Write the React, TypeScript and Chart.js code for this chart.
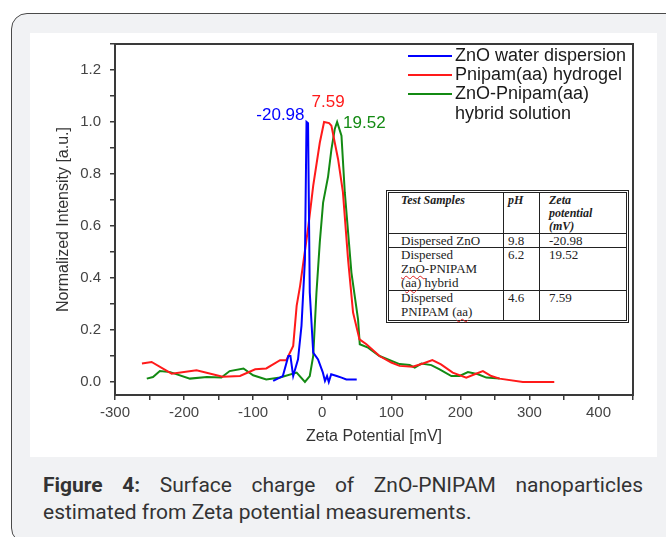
import React, { useEffect, useRef } from 'react';
import { Chart, registerables } from 'chart.js';

Chart.register(...registerables);

// ---- data ----
const znoX = [-71, -57, -49, -46, -42, -35, -30, -25, -22.7, -20.5, -18, -13, -6, 1, 4, 7, 9.5, 13, 21, 28, 35, 50];
const znoY = [0.004, 0.023, 0.1, 0.1, 0.023, 0.087, 0.216, 0.47, 1.0, 0.995, 0.344, 0.113, 0.087, 0.036, 0.004, 0.023, 0.0, 0.03, 0.023, 0.017, 0.01, 0.01];

const pnipamX = [-261, -247, -218, -182, -144, -119, -97, -81, -61, -52, -42, -37, -32, -20, -13, -3.5, 2.7, 10, 13.3, 23, 30, 37.5, 44.7, 54, 64, 83, 100, 112, 131, 146, 159.5, 172, 189, 208.6, 220.7, 232.7, 244.8, 256.8, 290.5, 336];
const pnipamY = [0.071, 0.077, 0.032, 0.045, 0.02, 0.023, 0.049, 0.052, 0.084, 0.084, 0.139, 0.293, 0.37, 0.6, 0.755, 0.92, 1.0, 0.996, 0.986, 0.857, 0.73, 0.47, 0.267, 0.164, 0.145, 0.1, 0.075, 0.062, 0.059, 0.071, 0.084, 0.068, 0.036, 0.017, 0.03, 0.042, 0.023, 0.013, 0.0, 0.0];

const hybridX = [-254, -245, -235, -220, -191.5, -167, -146, -134, -114, -100, -81, -61, -37, -25, -18, -13, -8.3, -3.5, 1.3, 8.5, 13.4, 18.2, 21.6, 27.9, 32.7, 42.3, 51.9, 54.4, 66.4, 83, 112, 126.7, 134, 143.6, 158, 170, 187, 199, 211, 225.6, 237.6, 256.8];
const hybridY = [0.013, 0.019, 0.042, 0.038, 0.013, 0.019, 0.017, 0.042, 0.052, 0.026, 0.01, 0.017, 0.036, 0.0, 0.023, 0.1, 0.344, 0.537, 0.69, 0.79, 0.896, 0.973, 1.0, 0.947, 0.73, 0.421, 0.241, 0.145, 0.132, 0.1, 0.069, 0.065, 0.055, 0.071, 0.065, 0.049, 0.023, 0.023, 0.038, 0.03, 0.017, 0.013];

const seriesNames = ['ZnO water dispersion', 'Pnipam(aa) hydrogel', 'ZnO-Pnipam(aa)'];
const legendExtraLine = 'hybrid solution';
const seriesColors = ['#0000ff', '#ff1a1a', '#138a13'];
const peakLabels = ['-20.98', '7.59', '19.52'];

const xMin = -300, xMax = 450, xStep = 50;
const yMin = -0.05, yMax = 1.3, yStep = 0.1;
const xTitle = 'Zeta Potential [mV]';
const yTitle = 'Normalized Intensity [a.u.]';

const tableHeader = [['Test Samples'], ['pH'], ['Zeta', 'potential', '(mV)']];
const tableSamples = [['Dispersed ZnO'], ['Dispersed', 'ZnO-PNIPAM', '(aa) hybrid'], ['Dispersed', 'PNIPAM (aa)']];
const tablePH = ['9.8', '6.2', '4.6'];
const tableZeta = ['-20.98', '19.52', '7.59'];

const captionBold = 'Figure 4:';
const captionLine1 = ' Surface charge of ZnO-PNIPAM nanoparticles';
const captionLine2 = 'estimated from Zeta potential measurements.';

const FONT = '"Liberation Sans", Arial, sans-serif';

const toPoints = (xs: number[], ys: number[]) => xs.map((x, i) => ({ x, y: ys[i] }));

const overlayPlugin = {
  id: 'overlay',
  afterDatasetsDraw(chart: any) {
    const { ctx, chartArea: a, scales } = chart;
    const xs = scales.x, ys = scales.y;
    ctx.save();
    // frame
    ctx.strokeStyle = '#3a3a3a';
    ctx.lineWidth = 2;
    ctx.strokeRect(a.left, a.top, a.right - a.left, a.bottom - a.top);

    // peak labels
    ctx.font = `17px ${FONT}`;
    ctx.textBaseline = 'middle';
    const offs = [
      { dx: -2, dy: -7, align: 'right' },
      { dx: 4, dy: -19.5, align: 'center' },
      { dx: 6, dy: 1, align: 'left' },
    ];
    chart.data.datasets.forEach((ds: any, i: number) => {
      let best = 0;
      ds.data.forEach((p: any, j: number) => { if (p.y > ds.data[best].y) best = j; });
      const px = xs.getPixelForValue(ds.data[best].x);
      const py = ys.getPixelForValue(ds.data[best].y);
      ctx.fillStyle = seriesColors[i];
      ctx.textAlign = offs[i].align;
      ctx.fillText(peakLabels[i], px + offs[i].dx, py + offs[i].dy);
    });

    // legend
    ctx.font = `18px ${FONT}`;
    ctx.textAlign = 'left';
    const rows = [12, 31, 50];
    rows.forEach((r, i) => {
      const y = a.top + r;
      ctx.strokeStyle = seriesColors[i];
      ctx.lineWidth = 2;
      ctx.beginPath();
      ctx.moveTo(a.right - 225, y);
      ctx.lineTo(a.right - 181, y);
      ctx.stroke();
      ctx.fillStyle = '#1a1a1a';
      ctx.fillText(seriesNames[i], a.right - 178, y);
    });
    ctx.fillText(legendExtraLine, a.right - 178, a.top + 70);
    ctx.restore();
  },
};

const zeroPad = (s: any) => {
  s.paddingTop = 0;
  s.paddingBottom = 0;
  s.paddingLeft = 0;
  s.paddingRight = 0;
};

function ChartCanvas() {
  const ref = useRef<HTMLCanvasElement | null>(null);
  useEffect(() => {
    if (!ref.current) return;
    const chart = new Chart(ref.current, {
      type: 'line',
      data: {
        datasets: [
          { label: seriesNames[0], data: toPoints(znoX, znoY), borderColor: seriesColors[0] },
          { label: seriesNames[1], data: toPoints(pnipamX, pnipamY), borderColor: seriesColors[1] },
          { label: seriesNames[2], data: toPoints(hybridX, hybridY), borderColor: seriesColors[2] },
        ].map((d) => ({ ...d, borderWidth: 2, pointRadius: 0, tension: 0, fill: false })),
      },
      options: {
        animation: false,
        responsive: false,
        events: [],
        layout: { padding: { left: 0, right: 24, top: 11, bottom: 0 } },
        plugins: { legend: { display: false }, tooltip: { enabled: false } },
        scales: {
          x: {
            type: 'linear',
            min: xMin,
            max: xMax,
            afterFit: (s: any) => { s.height = 62; zeroPad(s); },
            ticks: {
              stepSize: xStep,
              autoSkip: false,
              includeBounds: false,
              maxRotation: 0,
              padding: 4,
              color: '#444',
              font: { family: FONT, size: 15 },
              callback: (v: any) => (Math.round(v) % 100 === 0 ? String(Math.round(v)) : ''),
            },
            grid: { drawOnChartArea: false, drawTicks: true, tickLength: 5, color: '#3a3a3a', lineWidth: 1.5 },
            border: { display: true, color: '#3a3a3a', width: 2 },
            title: {
              display: true,
              text: xTitle,
              color: '#333',
              font: { family: FONT, size: 16 },
              padding: { top: 0, bottom: 11 },
            },
          },
          y: {
            type: 'linear',
            min: yMin,
            max: yMax,
            afterFit: (s: any) => { s.width = 85; zeroPad(s); },
            ticks: {
              stepSize: yStep,
              autoSkip: false,
              includeBounds: false,
              padding: 9,
              color: '#444',
              font: { family: FONT, size: 15 },
              callback: (v: any) => {
                const k = Math.round(v * 10);
                if (Math.abs(v * 10 - k) > 1e-6) return '';
                return k % 2 === 0 ? (k / 10).toFixed(1) : '';
              },
            },
            grid: { drawOnChartArea: false, drawTicks: true, tickLength: 5, color: '#3a3a3a', lineWidth: 1.5 },
            border: { display: true, color: '#3a3a3a', width: 2 },
            title: {
              display: true,
              text: yTitle,
              color: '#333',
              font: { family: FONT, size: 16 },
              padding: { top: 24, bottom: 0 },
            },
          },
        },
      },
      plugins: [overlayPlugin],
    } as any);
    return () => chart.destroy();
  }, []);
  return <canvas ref={ref} width={627} height={424} style={{ display: 'block', width: 627, height: 424 }} />;
}

const cellBase: React.CSSProperties = {
  boxSizing: 'border-box',
  borderRight: '1px solid #222',
  borderBottom: '1px solid #222',
  overflow: 'visible',
  whiteSpace: 'nowrap',
};

function DataTable() {
  const padL = [12, 4, 9];
  const cells: React.ReactNode[] = [];
  const wavy: React.CSSProperties = { textDecoration: 'underline wavy #e02020', textDecorationThickness: '1px', textUnderlineOffset: '2px' };
  const renderSample = (line: string) => {
    if (line.startsWith('ZnO-')) return (<><span style={wavy}>ZnO</span>{line.slice(3)}</>);
    if (line.includes('(aa)')) {
      const i = line.indexOf('(aa)');
      return (<>{line.slice(0, i)}(<span style={wavy}>aa</span>){line.slice(i + 4)}</>);
    }
    return line;
  };
  tableHeader.forEach((lines, c) => {
    cells.push(
      <div key={`h${c}`} style={{ ...cellBase, borderRight: c === 2 ? 'none' : cellBase.borderRight, paddingLeft: padL[c], paddingTop: 1, fontStyle: 'italic', fontWeight: 'bold', fontSize: 12, lineHeight: '13px' }}>
        {lines.map((l, i) => <div key={i}>{l}</div>)}
      </div>
    );
  });
  tableSamples.forEach((lines, r) => {
    const last = r === tableSamples.length - 1;
    const vals = [lines, [tablePH[r]], [tableZeta[r]]];
    vals.forEach((v, c) => {
      cells.push(
        <div key={`r${r}c${c}`} style={{ ...cellBase, borderRight: c === 2 ? 'none' : cellBase.borderRight, borderBottom: last ? 'none' : cellBase.borderBottom, paddingLeft: padL[c], fontSize: 13, lineHeight: '14px' }}>
          {v.map((l, i) => <div key={i}>{c === 0 ? renderSample(l) : l}</div>)}
        </div>
      );
    });
  });
  return (
    <div
      style={{
        position: 'absolute',
        left: 386,
        top: 190,
        width: 243,
        height: 133,
        boxSizing: 'border-box',
        border: '3px double #222',
        background: '#fff',
        display: 'grid',
        gridTemplateColumns: '115px 36px 86px',
        gridTemplateRows: '41px 14px 43px 29px',
        fontFamily: '"Liberation Serif", "DejaVu Serif", serif',
        color: '#222',
      }}
    >
      {cells}
    </div>
  );
}

export default function App() {
  return (
    <div style={{ position: 'fixed', left: 0, top: 0, width: 666, height: 537, overflow: 'hidden', background: '#fff' }}>
      <div
        style={{
          position: 'absolute',
          left: 11,
          top: 13,
          width: 700,
          height: 531,
          boxSizing: 'border-box',
          border: '1px solid #4a4a4a',
          borderRadius: 16,
          background: '#f1f2f4',
        }}
      />
      <div style={{ position: 'absolute', left: 30, top: 33, width: 627, height: 424, background: '#fff' }}>
        <ChartCanvas />
      </div>
      <DataTable />
      <div
        style={{
          position: 'absolute',
          left: 43,
          top: 472,
          width: 600,
          fontFamily: 'Roboto, "Liberation Sans", Arial, sans-serif',
          fontSize: 21,
          lineHeight: '27px',
          color: '#333',
        }}
      >
        <div style={{ textAlign: 'justify', textAlignLast: 'justify', whiteSpace: 'nowrap' as any }}>
          <b>{captionBold}</b>
          {captionLine1}
        </div>
        <div>{captionLine2}</div>
      </div>
    </div>
  );
}
